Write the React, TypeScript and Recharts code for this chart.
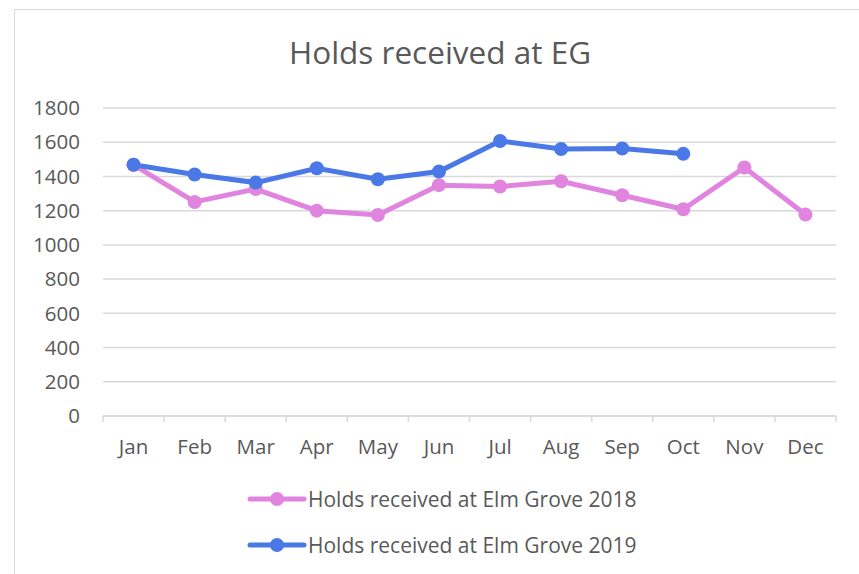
import React from 'react';
import { LineChart, Line, XAxis, YAxis, CartesianGrid, Legend } from 'recharts';

const months = ['Jan', 'Feb', 'Mar', 'Apr', 'May', 'Jun', 'Jul', 'Aug', 'Sep', 'Oct', 'Nov', 'Dec'];
const holds2018 = [1468, 1251, 1326, 1200, 1175, 1349, 1341, 1372, 1290, 1208, 1452, 1177];
const holds2019: (number | null)[] = [1468, 1411, 1364, 1448, 1384, 1429, 1607, 1560, 1563, 1532, null, null];
const yTicks = [0, 200, 400, 600, 800, 1000, 1200, 1400, 1600, 1800];

const name2018 = 'Holds received at Elm Grove 2018';
const name2019 = 'Holds received at Elm Grove 2019';
const title = 'Holds received at EG';

const PINK = '#E084DF';
const BLUE = '#4A78E6';
const TEXT = '#595959';
const GRID = '#D9D9D9';
const FONT = '"Open Sans", Lato, sans-serif';

const data = months.map((m, i) => ({ month: m, y2018: holds2018[i], y2019: holds2019[i] }));

const XTick = (props: any) => {
  const { x, y, payload, index } = props;
  const off = payload && payload.offset ? payload.offset : 0;
  const last = index === months.length - 1;
  return (
    <g>
      <line x1={x - off} y1={y} x2={x - off} y2={y + 6} stroke={GRID} strokeWidth={1.5} />
      {last && <line x1={x + off} y1={y} x2={x + off} y2={y + 6} stroke={GRID} strokeWidth={1.5} />}
      <text x={x} y={y + 38} textAnchor="middle" fill={TEXT} fontSize={20.5} fontFamily={FONT}>
        {payload.value}
      </text>
    </g>
  );
};

const LegendContent = () => {
  const rows = [
    { name: name2018, color: PINK },
    { name: name2019, color: BLUE },
  ];
  return (
    <div style={{ fontFamily: FONT, fontSize: 21, color: TEXT }}>
      {rows.map((r) => (
        <div key={r.name} style={{ display: 'flex', alignItems: 'center', height: 46 }}>
          <svg width={60} height={20} style={{ marginRight: 1 }}>
            <line x1={3} y1={10} x2={57} y2={10} stroke={r.color} strokeWidth={5} strokeLinecap="round" />
            <circle cx={30} cy={10} r={7} fill={r.color} />
          </svg>
          <span>{r.name}</span>
        </div>
      ))}
    </div>
  );
};

export default function App() {
  return (
    <div style={{ position: 'absolute', left: 0, top: 0, width: 859, height: 574, background: '#fff', overflow: 'hidden' }}>
      <div
        style={{
          position: 'absolute',
          left: 14,
          top: 9,
          width: 900,
          height: 700,
          border: '1.5px solid #D9D9D9',
          boxSizing: 'border-box',
        }}
      />
      <div
        style={{
          position: 'absolute',
          left: 0,
          width: 880,
          top: 30,
          textAlign: 'center',
          fontFamily: FONT,
          fontSize: 31.5,
          color: TEXT,
          lineHeight: '44px',
        }}
      >
        {title}
      </div>
      <div style={{ position: 'absolute', left: 0, top: 0 }}>
        <LineChart width={859} height={574} data={data} margin={{ top: 108, right: 23, bottom: 0, left: 0 }}>
          <CartesianGrid vertical={false} stroke={GRID} strokeWidth={1.5} />
          <XAxis
            dataKey="month"
            scale="band"
            tick={<XTick />}
            tickLine={false}
            tickSize={0}
            tickMargin={0}
            axisLine={{ stroke: GRID, strokeWidth: 1.5 }}
            interval={0}
            height={158}
          />
          <YAxis
            domain={[0, 1800]}
            ticks={yTicks}
            width={103}
            axisLine={false}
            tickLine={false}
            tickSize={0}
            tickMargin={23}
            tick={{ fill: TEXT, fontSize: 20.5, fontFamily: FONT }}
          />
          <Legend
            layout="horizontal"
            verticalAlign="middle"
            align="center"
            content={<LegendContent />}
            wrapperStyle={{ position: 'absolute', left: 247, top: 476, width: 440 }}
          />
          <Line
            type="linear"
            dataKey="y2018"
            name={name2018}
            stroke={PINK}
            strokeWidth={5}
            dot={{ r: 7, fill: PINK, stroke: PINK, strokeWidth: 0 }}
            activeDot={false}
            isAnimationActive={false}
          />
          <Line
            type="linear"
            dataKey="y2019"
            name={name2019}
            stroke={BLUE}
            strokeWidth={5}
            dot={{ r: 7, fill: BLUE, stroke: BLUE, strokeWidth: 0 }}
            activeDot={false}
            isAnimationActive={false}
          />
        </LineChart>
      </div>
    </div>
  );
}
